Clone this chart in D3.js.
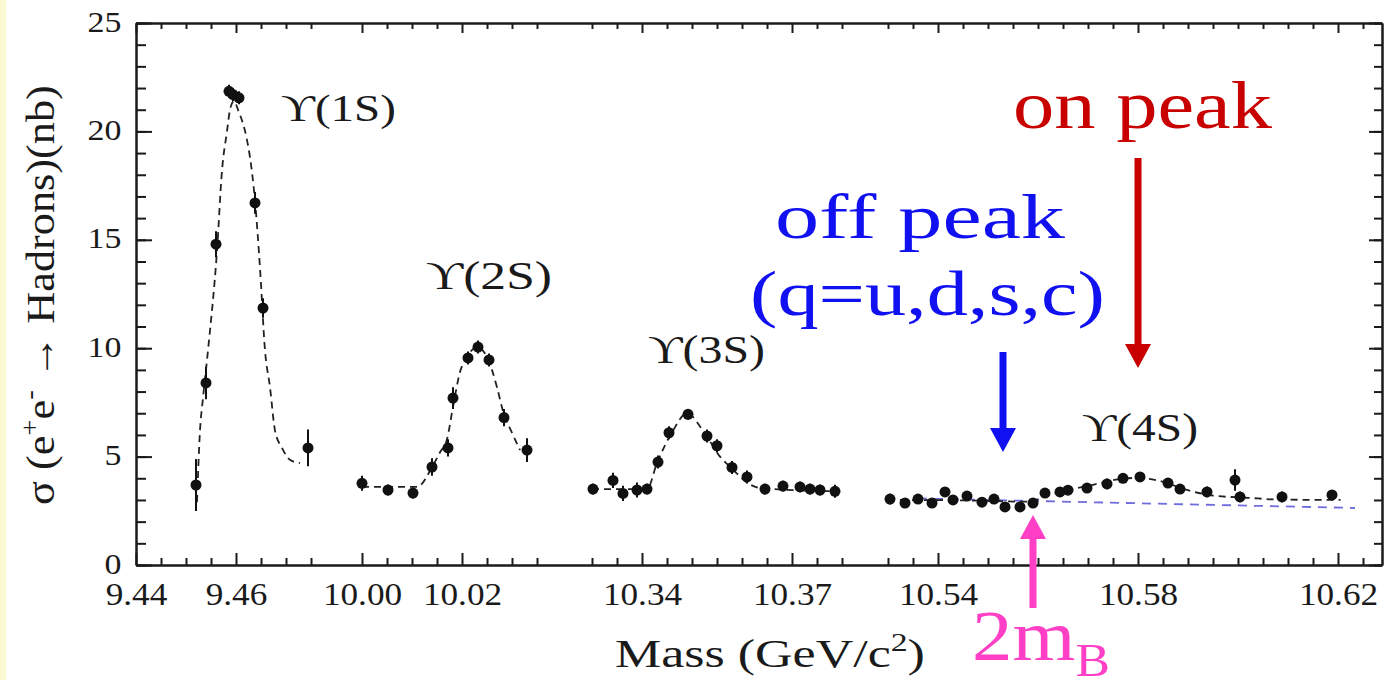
<!DOCTYPE html>
<html>
<head>
<meta charset="utf-8">
<script src="https://cdn.jsdelivr.net/npm/d3@7"></script>
<style>
  html, body { margin: 0; padding: 0; background: #ffffff; }
  svg { display: block; }
</style>
</head>
<body>
<svg id="chart" width="1389" height="680"></svg>
<script>
// ---------------- DATA ----------------
// Υ(1S) scan
const ups1Mass = [9.452, 9.454, 9.456, 9.4586, 9.4594, 9.4606, 9.4638, 9.4654, 9.4744];
const ups1Xsec = [3.69, 8.4, 14.8, 21.85, 21.7, 21.55, 16.7, 11.85, 5.4];
const ups1Err  = [1.2, 0.75, 0.6, 0.3, 0.3, 0.3, 0.5, 0.45, 0.85];
const fit1Mass = [9.4522, 9.4528, 9.4534, 9.4544, 9.4562, 9.4572, 9.4582, 9.4588, 9.4596, 9.4604, 9.4622, 9.4628, 9.4638, 9.4648, 9.4658, 9.4668, 9.4678, 9.4692, 9.4708, 9.4728];
const fit1Xsec = [2.9, 6.2, 7.7, 9.9, 14.5, 18.2, 20.0, 21.0, 21.4, 21.0, 19.6, 18.8, 16.8, 13.7, 9.9, 8.2, 6.2, 5.4, 4.85, 4.7];

// Υ(2S) scan
const ups2Mass = [10.000, 10.0052, 10.0102, 10.014, 10.0172, 10.0182, 10.0212, 10.0232, 10.0254, 10.0284, 10.033];
const ups2Xsec = [3.77, 3.46, 3.32, 4.52, 5.4, 7.7, 9.55, 10.05, 9.46, 6.8, 5.3];
const ups2Err  = [0.35, 0.25, 0.25, 0.4, 0.4, 0.5, 0.3, 0.3, 0.3, 0.4, 0.55];
const fit2Mass = [10.000, 10.011, 10.014, 10.0156, 10.017, 10.0182, 10.0196, 10.021, 10.023, 10.025, 10.027, 10.0282, 10.030, 10.0316];
const fit2Xsec = [3.6, 3.6, 4.5, 5.2, 5.8, 7.3, 8.9, 9.6, 10.05, 9.6, 8.2, 7.1, 6.1, 5.3];

// Υ(3S) scan
const ups3Mass = [10.3302, 10.3342, 10.3362, 10.339, 10.341, 10.3432, 10.3454, 10.3492, 10.353, 10.355, 10.358, 10.361, 10.3646, 10.3682, 10.3716, 10.3736, 10.3756, 10.3786];
const ups3Xsec = [3.5, 3.9, 3.3, 3.46, 3.5, 4.75, 6.1, 6.95, 5.95, 5.5, 4.5, 4.06, 3.5, 3.64, 3.6, 3.5, 3.46, 3.4];
const ups3Err  = [0.25, 0.35, 0.35, 0.35, 0.25, 0.3, 0.3, 0.25, 0.3, 0.3, 0.3, 0.3, 0.25, 0.25, 0.25, 0.25, 0.25, 0.3];
const fit3Mass = [10.330, 10.341, 10.343, 10.3462, 10.349, 10.3522, 10.3556, 10.3582, 10.361, 10.3636, 10.3786];
const fit3Xsec = [3.5, 3.5, 4.7, 6.2, 7.0, 6.2, 5.0, 4.4, 3.8, 3.55, 3.4];

// Υ(4S) scan
const ups4Mass = [10.5304, 10.5334, 10.536, 10.5388, 10.5414, 10.543, 10.5458, 10.5488, 10.5512, 10.5534, 10.5564, 10.559, 10.5614, 10.5644, 10.566, 10.5698, 10.5738, 10.577, 10.5804, 10.586, 10.5884, 10.5938, 10.5994, 10.6004, 10.6088, 10.6188];
const ups4Xsec = [3.04, 2.86, 3.04, 2.86, 3.37, 3.0, 3.18, 2.9, 3.04, 2.68, 2.68, 2.86, 3.32, 3.37, 3.45, 3.55, 3.74, 4.0, 4.06, 3.78, 3.5, 3.37, 3.92, 3.14, 3.14, 3.23];
const ups4Err  = [0.25, 0.2, 0.2, 0.2, 0.2, 0.2, 0.2, 0.2, 0.2, 0.2, 0.2, 0.2, 0.2, 0.2, 0.2, 0.2, 0.25, 0.2, 0.2, 0.2, 0.2, 0.25, 0.5, 0.25, 0.25, 0.2];
const fit4Mass = [10.530, 10.545, 10.558, 10.562, 10.566, 10.571, 10.576, 10.580, 10.584, 10.590, 10.595, 10.602, 10.608, 10.6205];
const fit4Xsec = [3.0, 2.98, 2.92, 3.2, 3.45, 3.7, 3.95, 4.02, 3.9, 3.45, 3.2, 3.1, 3.02, 3.0];

// continuum (off-resonance) extrapolation
const contMass = [10.536, 10.6234];
const contXsec = [3.07, 2.63];

// axes
const yMajorTicks = [0, 5, 10, 15, 20, 25];
const yMinorTicks = d3.range(0, 26, 1);
const xMajorTicks = [9.44, 9.46, 10.00, 10.02, 10.34, 10.37, 10.54, 10.58, 10.62];
const xTickLabels = ["9.44", "9.46", "10.00", "10.02", "10.34", "10.37", "10.54", "10.58", "10.62"];
const xMinorTicks = [9.445, 9.45, 9.455, 9.465, 9.47, 9.475,
  10.005, 10.01, 10.015, 10.025, 10.03, 10.035,
  10.33, 10.335, 10.345, 10.35, 10.355, 10.36, 10.365, 10.375, 10.38,
  10.53, 10.535, 10.545, 10.55, 10.555, 10.56, 10.565, 10.57, 10.575, 10.585, 10.59, 10.595, 10.60, 10.605, 10.61, 10.615, 10.625];

// broken mass axis: four windows
const segDomain = [9.44, 9.48, 9.995, 10.04, 10.325, 10.3845, 10.5255, 10.6288];

// annotation texts
const resLabels = ["ϒ(1S)", "ϒ(2S)", "ϒ(3S)", "ϒ(4S)"];
const resLabelMass = [9.469, 10.0128, 10.3412, 10.5688];
const resLabelXsec = [20.5, 12.72, 9.33, 5.72];

// ---------------- LAYOUT ----------------
const SERIF = "'Liberation Serif', 'DejaVu Serif', serif";
const L = 136, R = 1382, T = 23, B = 565;
const svg = d3.select("#chart");

svg.append("rect").attr("x", 0).attr("y", 0).attr("width", 6).attr("height", 680).attr("fill", "#fafad4");

const x = d3.scaleLinear().domain(segDomain).range([L, 336, 337, 562, 567, 864.5, 865.5, R]);
const y = d3.scaleLinear().domain([0, 25]).range([B, T]);

function styleAxis(g) {
  g.selectAll("path.domain").attr("stroke", "#1a1a1a").attr("stroke-width", 2);
  g.selectAll(".tick line").attr("stroke", "#1a1a1a").attr("stroke-width", 2);
}

// bottom axis
const gb1 = svg.append("g").attr("transform", `translate(0,${B})`)
  .call(d3.axisBottom(x).tickValues(xMinorTicks).tickSize(-7).tickSizeOuter(0).tickFormat(""));
styleAxis(gb1);
const gb2 = svg.append("g").attr("transform", `translate(0,${B})`)
  .call(d3.axisBottom(x).tickValues(xMajorTicks).tickSize(-12).tickSizeOuter(0).tickPadding(17)
    .tickFormat((d, i) => xTickLabels[i]));
styleAxis(gb2);
gb2.selectAll(".tick text").attr("font-family", SERIF).attr("font-size", 32).attr("fill", "#1a1a1a")
  .attr("transform", "scale(1.1,1)");

// top axis
const gt1 = svg.append("g").attr("transform", `translate(0,${T})`)
  .call(d3.axisTop(x).tickValues(xMinorTicks).tickSize(-6).tickSizeOuter(0).tickFormat(""));
styleAxis(gt1);
const gt2 = svg.append("g").attr("transform", `translate(0,${T})`)
  .call(d3.axisTop(x).tickValues(xMajorTicks).tickSize(-10).tickSizeOuter(0).tickFormat(""));
styleAxis(gt2);

// left axis
const gl1 = svg.append("g").attr("transform", `translate(${L},0)`)
  .call(d3.axisLeft(y).tickValues(yMinorTicks).tickSize(-10).tickSizeOuter(0).tickFormat(""));
styleAxis(gl1);
const gl2 = svg.append("g").attr("transform", `translate(${L},0)`)
  .call(d3.axisLeft(y).tickValues(yMajorTicks).tickSize(-16).tickSizeOuter(0).tickPadding(13).tickFormat(d3.format("d")));
styleAxis(gl2);
gl2.selectAll(".tick text").attr("font-family", SERIF).attr("font-size", 30).attr("fill", "#1a1a1a")
  .attr("dy", "0.27em").attr("transform", "scale(1.13,1)");

// right axis
const gr1 = svg.append("g").attr("transform", `translate(${R},0)`)
  .call(d3.axisRight(y).tickValues(yMinorTicks).tickSize(-8).tickSizeOuter(0).tickFormat(""));
styleAxis(gr1);
const gr2 = svg.append("g").attr("transform", `translate(${R},0)`)
  .call(d3.axisRight(y).tickValues(yMajorTicks).tickSize(-13).tickSizeOuter(0).tickFormat(""));
styleAxis(gr2);

// ---------------- TEXT HELPER ----------------
function fitText(parent, parts, o) {
  const t = parent.append("text")
    .attr("font-family", SERIF).attr("font-size", o.size).attr("fill", o.color || "#1a1a1a");
  parts.forEach(p => {
    const ts = t.append("tspan").text(p.t);
    if (p.size) ts.attr("font-size", p.size);
    if (p.dy) ts.attr("dy", p.dy);
  });
  const w = t.node().getComputedTextLength();
  const sx = o.width / w;
  const off = o.anchor === "middle" ? w / 2 : (o.anchor === "end" ? w : 0);
  t.attr("transform", `translate(${o.x},${o.y}) rotate(${o.rotate || 0}) scale(${sx},1) translate(${-off},0)`);
  return t;
}

// axis titles
fitText(svg, [{t: "Mass (GeV/c"}, {t: "2", size: 26, dy: -16}, {t: ")", dy: 16}],
  {x: 770, y: 667, width: 310, size: 40, anchor: "middle"});
fitText(svg, [{t: "σ (e"}, {t: "+", size: 26, dy: -16}, {t: "e", dy: 16}, {t: "-", size: 26, dy: -16},
  {t: " → Hadrons)(nb)", dy: 16}],
  {x: 54, y: 295, width: 420, size: 40, anchor: "middle", rotate: -90});

// ---------------- DATA MARKS ----------------
const plot = svg.append("g");
const line = d3.line().x(d => x(d[0])).y(d => y(d[1])).curve(d3.curveMonotoneX);
const fits = [[fit1Mass, fit1Xsec], [fit2Mass, fit2Xsec], [fit3Mass, fit3Xsec], [fit4Mass, fit4Xsec]];
plot.append("path")
  .attr("d", d3.line().x(d => x(d[0])).y(d => y(d[1]))(contMass.map((m, i) => [m, contXsec[i]])))
  .attr("fill", "none").attr("stroke", "#6d6de0").attr("stroke-width", 1.8).attr("stroke-dasharray", "9,7");
fits.forEach(([m, s]) => {
  plot.append("path").attr("d", line(m.map((v, i) => [v, s[i]])))
    .attr("fill", "none").attr("stroke", "#222").attr("stroke-width", 1.8).attr("stroke-dasharray", "7,5");
});
const scans = [[ups1Mass, ups1Xsec, ups1Err], [ups2Mass, ups2Xsec, ups2Err], [ups3Mass, ups3Xsec, ups3Err], [ups4Mass, ups4Xsec, ups4Err]];
scans.forEach(([m, s, e]) => {
  const pts = m.map((v, i) => ({m: v, s: s[i], e: e[i]}));
  plot.selectAll(null).data(pts).enter().append("line")
    .attr("x1", d => x(d.m)).attr("x2", d => x(d.m))
    .attr("y1", d => y(d.s - d.e)).attr("y2", d => y(d.s + d.e))
    .attr("stroke", "#111").attr("stroke-width", 2);
  plot.selectAll(null).data(pts).enter().append("circle")
    .attr("cx", d => x(d.m)).attr("cy", d => y(d.s)).attr("r", 5.5).attr("fill", "#111");
});

// resonance labels
resLabels.forEach((lab, i) => {
  fitText(svg, [{t: lab}], {x: x(resLabelMass[i]), y: y(resLabelXsec[i]), width: [115, 126, 117, 116][i], size: 39});
});

// ---------------- ANNOTATIONS ----------------
function arrow(mass, fromV, toV, color) {
  const xs = x(mass), y0 = y(fromV), y1 = y(toV);
  const dir = y1 > y0 ? 1 : -1;
  const headLen = 24, headHalf = 13, shaft = 3.5;
  const yh = y1 - dir * headLen;
  svg.append("path")
    .attr("d", `M${xs - shaft},${y0} L${xs + shaft},${y0} L${xs + shaft},${yh} L${xs + headHalf},${yh} L${xs},${y1} L${xs - headHalf},${yh} L${xs - shaft},${yh} Z`)
    .attr("fill", color);
}
const RED = "#c80000", BLUE = "#1010f0", PINK = "#ff3fc6";
fitText(svg, [{t: "on peak"}], {x: x(10.555), y: y(20.16), width: 259, size: 68, color: RED});
arrow(10.58, 18.77, 9.09, RED);
fitText(svg, [{t: "off peak"}], {x: x(10.3666), y: y(15.08), width: 290, size: 64, color: BLUE});
fitText(svg, [{t: "(q=u,d,s,c)"}], {x: x(10.3616), y: y(11.53), width: 355, size: 64, color: BLUE});
arrow(10.553, 9.82, 5.21, BLUE);
arrow(10.559, -1.98, 2.31, PINK);
fitText(svg, [{t: "2m"}, {t: "B", size: 46, dy: 16}], {x: x(10.5468), y: y(-4.4), width: 138, size: 72, color: PINK});
</script>
</body>
</html>
